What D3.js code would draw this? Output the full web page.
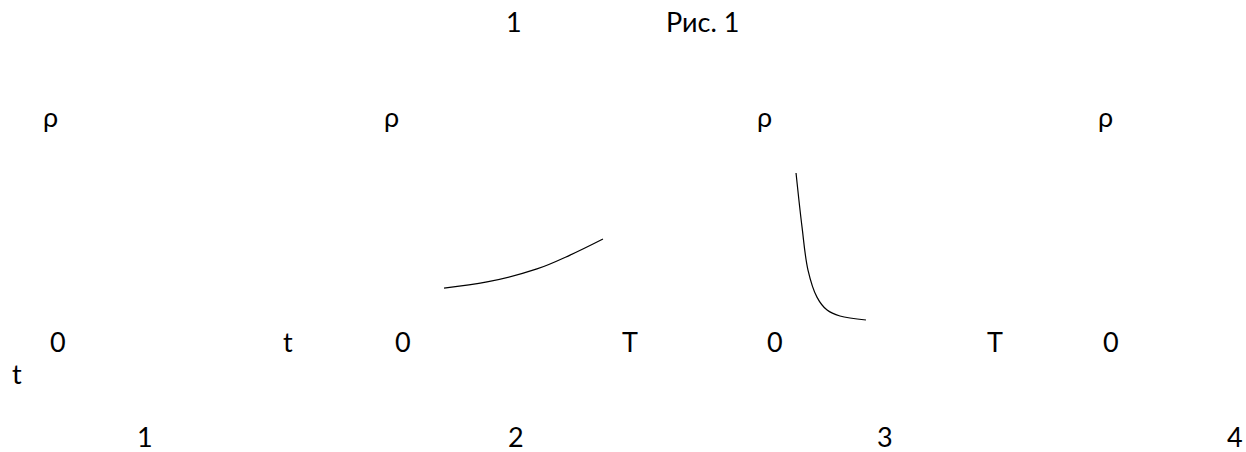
<!DOCTYPE html>
<html>
<head>
<meta charset="utf-8">
<script src="https://cdn.jsdelivr.net/npm/d3@7"></script>
<style>
  body { margin: 0; background: #fff; }
  text { font-family: Lato, "Open Sans", "Noto Sans", sans-serif; font-size: 27px; fill: #000; }
</style>
</head>
<body>
<div id="fig"></div>
<script>
// Labels of the figure
var pageNumber = "1";
var figureTitle = "Рис. 1";
var yLabel = "ρ";
var originLabel = "0";
var xEndLabels = ["t", "T", "T"];
var strayLabel = "t";
var panelNumbers = ["1", "2", "3", "4"];

// Curve in panel 2 (rising, convex)  x in [0,1] of axis, y in [0,1]
var curve2 = [
  { x: 0.148, y: 0.236 },
  { x: 0.335, y: 0.264 },
  { x: 0.552, y: 0.323 },
  { x: 0.696, y: 0.386 },
  { x: 0.839, y: 0.459 }
];

// Curve in panel 3 (falling steeply then flattening)
var curve3 = [
  { x: 0.061, y: 0.759 },
  { x: 0.087, y: 0.514 },
  { x: 0.113, y: 0.318 },
  { x: 0.152, y: 0.195 },
  { x: 0.196, y: 0.136 },
  { x: 0.252, y: 0.109 },
  { x: 0.365, y: 0.091 }
];

var width = 1246;
var height = 452;

var svg = d3.select("#fig")
  .append("svg")
  .attr("width", width)
  .attr("height", height);

// layout of the four panels (origin label left edge)
var originX = [50, 395, 767, 1103];
var rhoX = [43, 384, 757, 1098];
var endX = [283, 622, 987];
var numberX = [137, 508, 877, 1227];

// header
svg.append("text").attr("x", 506).attr("y", 32).text(pageNumber);
svg.append("text").attr("x", 666).attr("y", 32).text(figureTitle);

// rho labels
svg.selectAll(".rho")
  .data(panelNumbers)
  .enter()
  .append("text")
  .attr("class", "rho")
  .attr("x", (d, i) => rhoX[i])
  .attr("y", 127)
  .text(yLabel);

// origin labels
svg.selectAll(".origin")
  .data(panelNumbers)
  .enter()
  .append("text")
  .attr("class", "origin")
  .attr("x", (d, i) => originX[i])
  .attr("y", 352)
  .text(originLabel);

// axis end labels
svg.selectAll(".xend")
  .data(xEndLabels)
  .enter()
  .append("text")
  .attr("class", "xend")
  .attr("x", (d, i) => endX[i])
  .attr("y", 352)
  .text(d => d);

svg.append("text").attr("x", 12).attr("y", 384).text(strayLabel);

// panel numbers
svg.selectAll(".num")
  .data(panelNumbers)
  .enter()
  .append("text")
  .attr("class", "num")
  .attr("x", (d, i) => numberX[i])
  .attr("y", 447)
  .text(d => d);

// scales for the curves
var y = d3.scaleLinear().domain([0, 1]).range([340, 120]);
var x2 = d3.scaleLinear().domain([0, 1]).range([410, 640]);
var x3 = d3.scaleLinear().domain([0, 1]).range([782, 1012]);

function drawCurve(data, xs) {
  var line = d3.line()
    .x(d => xs(d.x))
    .y(d => y(d.y))
    .curve(d3.curveCatmullRom);
  svg.append("path")
    .datum(data)
    .attr("d", line)
    .attr("fill", "none")
    .attr("stroke", "#000")
    .attr("stroke-width", 1.2);
}

drawCurve(curve2, x2);
drawCurve(curve3, x3);
</script>
</body>
</html>
